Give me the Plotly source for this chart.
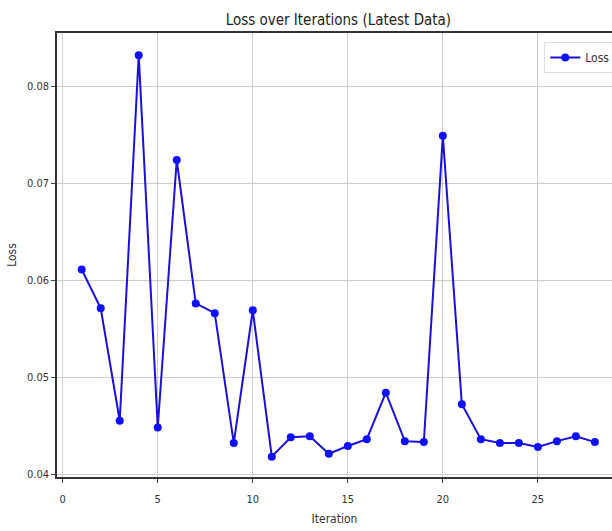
import plotly.graph_objects as go

iterations = list(range(1, 29))
loss = [0.0611, 0.0571, 0.0455, 0.0832, 0.0448, 0.0724, 0.0576, 0.0566,
        0.0432, 0.0569, 0.0418, 0.0438, 0.0439, 0.0421, 0.0429, 0.0436,
        0.0484, 0.0434, 0.0433, 0.0749, 0.0472, 0.0436, 0.0432, 0.0432,
        0.0428, 0.0434, 0.0439, 0.0433]
x_ticks = [0, 5, 10, 15, 20, 25]
y_ticks = [0.04, 0.05, 0.06, 0.07, 0.08]

FONT = "Liberation Sans Narrow, DejaVu Sans Condensed, Liberation Sans, sans-serif"

fig = go.Figure()
fig.add_trace(go.Scatter(
    x=iterations, y=loss, mode="lines+markers", name="Loss",
    line=dict(color="#1a10d8", width=2),
    marker=dict(color="#1010ff", size=8),
))

fig.update_layout(
    width=612, height=531,
    margin=dict(l=57, r=0, t=33, b=54, autoexpand=False),
    paper_bgcolor="white", plot_bgcolor="white",
    font=dict(family=FONT, size=11, color="#333333"),
    title=dict(text="Loss over Iterations (Latest Data)", x=0.507, xref="paper",
               xanchor="center", y=0.962, yanchor="middle",
               font=dict(family=FONT, size=15, color="#222222")),
    showlegend=True,
    legend=dict(x=0.878, y=0.98, xanchor="left", yanchor="top", itemwidth=30,
                bgcolor="rgba(255,255,255,0.9)", bordercolor="#dddddd", borderwidth=1,
                font=dict(family=FONT, size=12, color="#333333")),
    xaxis=dict(range=[-0.3, 28.9], tickvals=x_ticks, ticks="outside", ticklen=4,
               ticklabelstandoff=7,
               tickcolor="#444444", showline=True, linecolor="#333333", linewidth=1.5,
               mirror=True, showgrid=True, gridcolor="#cccccc", gridwidth=1,
               zeroline=False,
               title=dict(text="Iteration", standoff=10, font=dict(family=FONT, size=12))),
    yaxis=dict(range=[0.0397, 0.0855], tickvals=y_ticks, tickformat=".2f",
               ticks="outside", ticklen=4, tickcolor="#444444",
               showline=True, linecolor="#333333", linewidth=1.5, mirror=False,
               showgrid=True, gridcolor="#cccccc", gridwidth=1, zeroline=False,
               title=dict(text="Loss", standoff=8, font=dict(family=FONT, size=12))),
)

fig.write_html("out.html", config={"displayModeBar": False},
               post_script="document.body.style.margin='0';")
